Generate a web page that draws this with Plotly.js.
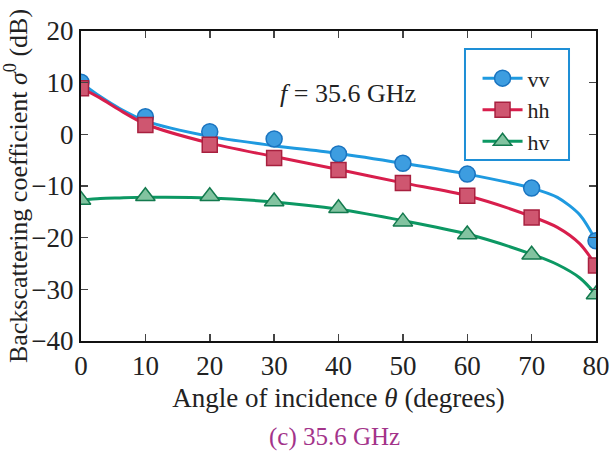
<!DOCTYPE html>
<html>
<head>
<meta charset="utf-8">
<script src="https://cdn.plot.ly/plotly-3.0.1.min.js"></script>
<style>html,body{margin:0;padding:0;background:#fff;}#chart{width:613px;height:453px;}</style>
</head>
<body>
<div id="chart"></div>
<script>
// Measured data (markers)
const angles = [0, 10, 20, 30, 40, 50, 60, 70, 80];
const vvData = [10.1, 3.4, 0.5, -0.9, -3.8, -5.6, -7.7, -10.4, -20.6];
const hhData = [8.9, 1.8, -2.0, -4.6, -6.9, -9.4, -11.9, -16.1, -25.4];
const hvData = [-12.7, -12.0, -12.0, -13.0, -14.3, -16.9, -19.4, -23.3, -31.0];

// Fitted model curves
const fitAngles = [0, 3, 6, 10, 20, 30, 40, 50, 60, 70, 74, 77.5, 80];
const vvFit = [10.0, 7.3, 5.0, 2.6, -0.4, -2.2, -3.7, -5.6, -7.7, -10.4, -12.2, -15.6, -20.6];
const hhFit = [9.0, 7.0, 4.7, 2.0, -1.7, -4.3, -6.8, -9.4, -11.9, -15.9, -18.0, -21.2, -25.4];
const hvFit = [-12.7, -12.4, -12.3, -12.2, -12.3, -13.1, -14.5, -16.7, -19.3, -23.2, -25.2, -27.8, -31.0];

const seriesNames = ['vv', 'hh', 'hv'];
const xTicks = [0, 10, 20, 30, 40, 50, 60, 70, 80];
const yTicks = [-40, -30, -20, -10, 0, 10, 20];

const serif = "'Liberation Serif', 'Times New Roman', serif";
const txt = '#222';

const styles = [
  {line: {color: '#1f9ae0', width: 3}, marker: {symbol: 'circle', size: 16, color: '#3d9de0', line: {color: '#1a74c0', width: 1.5}}},
  {line: {color: '#d81e4c', width: 3}, marker: {symbol: 'square', size: 15, color: '#cf5670', line: {color: '#a8203f', width: 1.5}}},
  {line: {color: '#0c9863', width: 3}, marker: {symbol: 'triangle-up', size: 17, color: '#82c3a0', line: {color: '#137a4e', width: 1.5}}}
];
const fits = [vvFit, hhFit, hvFit];
const datas = [vvData, hhData, hvData];

const traces = [];
fits.forEach((f, i) => traces.push({x: fitAngles, y: f, mode: 'lines', showlegend: false, hoverinfo: 'skip',
  line: Object.assign({}, styles[i].line, {shape: 'spline', smoothing: 0.8})}));
datas.forEach((d, i) => traces.push({x: angles, y: d, name: seriesNames[i], mode: 'markers', showlegend: false,
  marker: styles[i].marker}));
// legend entries (line + marker look)
seriesNames.forEach((n, i) => traces.push({x: [null], y: [null], name: n, mode: 'lines+markers',
  line: styles[i].line, marker: styles[i].marker, showlegend: true, hoverinfo: 'skip'}));

const layout = {
  width: 613, height: 453,
  margin: {l: 81, r: 17, t: 31, b: 112},
  paper_bgcolor: '#fff', plot_bgcolor: '#fff',
  font: {family: serif, size: 24, color: txt},
  showlegend: true,
  legend: {x: 0.77, y: 0.915, xanchor: 'left', yanchor: 'top',
    borderwidth: 0, bgcolor: 'rgba(0,0,0,0)',
    font: {family: serif, size: 22, color: txt}, tracegroupgap: 0, itemwidth: 40},
  xaxis: {range: [0, 80], tickvals: xTicks, ticks: 'inside', ticklen: 7, tickwidth: 1.5,
    showline: true, linecolor: '#111', linewidth: 2, mirror: 'ticks', showgrid: false, zeroline: false,
    tickfont: {family: serif, size: 27, color: txt},
    title: {text: 'Angle of incidence <i>θ</i> (degrees)', font: {family: serif, size: 27, color: txt}, standoff: 8}},
  yaxis: {range: [-40, 20], tickvals: yTicks, ticks: 'inside', ticklen: 7, tickwidth: 1.5,
    showline: true, linecolor: '#111', linewidth: 2, mirror: 'ticks', showgrid: false, zeroline: false,
    tickfont: {family: serif, size: 27, color: txt},
    title: {text: 'Backscattering coefficient <i>σ</i><sup>0</sup> (dB)', font: {family: serif, size: 26, color: txt}, standoff: 4}},
  shapes: [
    {type: 'rect', xref: 'paper', yref: 'paper', x0: 0.7456, x1: 0.9476, y0: 0.584, y1: 0.942,
     line: {color: '#1e8fd6', width: 2}, fillcolor: 'rgba(0,0,0,0)'}
  ],
  annotations: [
    {xref: 'paper', yref: 'paper', x: 0.518, y: 0.853, text: '<i>f</i> = 35.6 GHz', showarrow: false,
     font: {family: serif, size: 26, color: txt}},
    {xref: 'paper', yref: 'paper', x: 0.493, y: -0.309, yanchor: 'middle', text: '(c) 35.6 GHz', showarrow: false,
     font: {family: serif, size: 25, color: '#a3338a'}}
  ]
};

Plotly.newPlot('chart', traces, layout, {displayModeBar: false, staticPlot: true});
</script>
</body>
</html>
